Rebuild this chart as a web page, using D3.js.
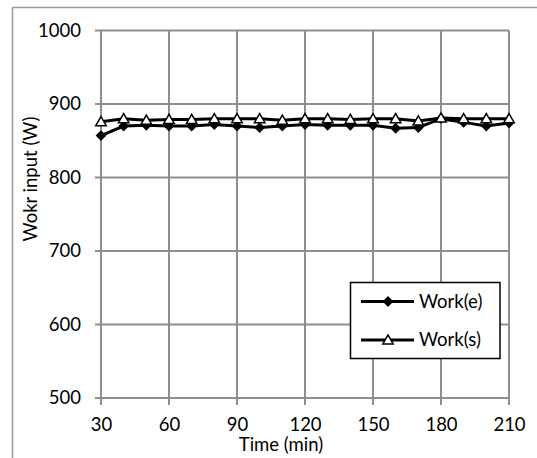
<!DOCTYPE html>
<html>
<head>
<meta charset="utf-8">
<script src="https://cdn.jsdelivr.net/npm/d3@7"></script>
<style>
  body { margin: 0; background: #fff; }
  svg text { font-family: Lato, "Open Sans", sans-serif; fill: #000; }
</style>
</head>
<body>
<div id="chart"></div>
<script>
// time in minutes
var times = [30, 40, 50, 60, 70, 80, 90, 100, 110, 120, 130, 140, 150, 160, 170, 180, 190, 200, 210];
// measured work input (W)
var workE = [857, 870, 871, 870, 870, 872, 870, 868, 870, 872, 871, 871, 871, 867, 868, 880, 875, 870, 874];
var workS = [876, 880, 878, 879, 879, 880, 880, 880, 878, 880, 880, 879, 880, 880, 877, 881, 880, 880, 880];
var xTicks = [30, 60, 90, 120, 150, 180, 210];
var yTicks = [500, 600, 700, 800, 900, 1000];
var seriesNames = ["Work(e)", "Work(s)"];

var width = 537, height = 458;
var plot = { left: 101, right: 509, top: 30.5, bottom: 398 };
var gridColor = "#8e8e8e";
var fontSize = 18.5;

var svg = d3.select("#chart").append("svg")
  .attr("width", width)
  .attr("height", height);

// outer frame (only top and left edges visible)
svg.append("line")
  .attr("x1", 12.5).attr("y1", 7.5).attr("x2", width).attr("y2", 7.5)
  .attr("stroke", "#9a9a9a").attr("stroke-width", 1.5);
svg.append("line")
  .attr("x1", 12.5).attr("y1", 7.5).attr("x2", 12.5).attr("y2", height)
  .attr("stroke", "#9a9a9a").attr("stroke-width", 1.5);

var x = d3.scaleLinear().domain([30, 210]).range([plot.left, plot.right]);
var y = d3.scaleLinear().domain([500, 1000]).range([plot.bottom, plot.top]);

//gridlines
var grid = svg.append("g").attr("class", "grid");
grid.selectAll("line.v")
  .data(xTicks)
  .enter()
  .append("line")
  .attr("x1", function (d) { return x(d); })
  .attr("x2", function (d) { return x(d); })
  .attr("y1", plot.top)
  .attr("y2", plot.bottom + 7)
  .attr("stroke", gridColor)
  .attr("stroke-width", 2);
grid.selectAll("line.h")
  .data(yTicks)
  .enter()
  .append("line")
  .attr("x1", plot.left - 6)
  .attr("x2", plot.right)
  .attr("y1", function (d) { return y(d); })
  .attr("y2", function (d) { return y(d); })
  .attr("stroke", gridColor)
  .attr("stroke-width", 2);

// axes (labels only, lines come from the grid)
var xAxis = svg.append("g")
  .attr("transform", "translate(0," + plot.bottom + ")")
  .call(d3.axisBottom(x).tickValues(xTicks).tickFormat(d3.format("d")).tickSize(0).tickPadding(20));
var yAxis = svg.append("g")
  .attr("transform", "translate(" + plot.left + ",0)")
  .call(d3.axisLeft(y).tickValues(yTicks).tickFormat(d3.format("d")).tickSize(0).tickPadding(20));
[xAxis, yAxis].forEach(function (ax) {
  ax.select(".domain").remove();
  ax.selectAll("text")
    .attr("font-size", fontSize)
    .attr("font-family", "Lato, sans-serif")
    .attr("fill", "#000");
});

// axis titles
svg.append("text")
  .attr("x", 281)
  .attr("y", 451)
  .attr("text-anchor", "middle")
  .attr("font-size", fontSize)
  .text("Time (min)");
svg.append("text")
  .attr("transform", "translate(37,179) rotate(-90)")
  .attr("text-anchor", "middle")
  .attr("font-size", fontSize)
  .text("Wokr input (W)");

var lineGen = function (vals) {
  return d3.line()
    .x(function (d, i) { return x(times[i]); })
    .y(function (d) { return y(d); })(vals);
};

var diamond = d3.symbol().type(d3.symbolSquare).size(58);
var triangle = d3.symbol().type(d3.symbolTriangle).size(48);

// Work(s) line
svg.append("path")
  .attr("d", lineGen(workS))
  .attr("fill", "none")
  .attr("stroke", "#000")
  .attr("stroke-width", 3);

// Work(e) line
svg.append("path")
  .attr("d", lineGen(workE))
  .attr("fill", "none")
  .attr("stroke", "#000")
  .attr("stroke-width", 3);

svg.selectAll("path.dia")
  .data(workE)
  .enter()
  .append("path")
  .attr("class", "dia")
  .attr("d", diamond)
  .attr("transform", function (d, i) { return "translate(" + x(times[i]) + "," + y(d) + ") rotate(45)"; })
  .attr("fill", "#000");

svg.selectAll("path.tri")
  .data(workS)
  .enter()
  .append("path")
  .attr("class", "tri")
  .attr("d", triangle)
  .attr("transform", function (d, i) { return "translate(" + x(times[i]) + "," + (y(d) + 1) + ")"; })
  .attr("fill", "#fff")
  .attr("stroke", "#000")
  .attr("stroke-width", 1.5);

// legend
var legend = svg.append("g");
legend.append("rect")
  .attr("x", 350.5).attr("y", 282.5)
  .attr("width", 149.5).attr("height", 76)
  .attr("fill", "#fff")
  .attr("stroke", "#000")
  .attr("stroke-width", 1.5);

var rows = legend.selectAll("g.row")
  .data(seriesNames)
  .enter()
  .append("g")
  .attr("class", "row")
  .attr("transform", function (d, i) { return "translate(0," + (i === 0 ? 301.5 : 340) + ")"; });
rows.append("line")
  .attr("x1", 361).attr("x2", 414)
  .attr("stroke", "#000").attr("stroke-width", 3);
rows.append("path")
  .attr("d", function (d, i) { return i === 0 ? diamond() : triangle(); })
  .attr("transform", function (d, i) { return i === 0 ? "translate(388,0) rotate(45)" : "translate(388,1)"; })
  .attr("fill", function (d, i) { return i === 0 ? "#000" : "#fff"; })
  .attr("stroke", function (d, i) { return i === 0 ? "none" : "#000"; })
  .attr("stroke-width", 1.5);
rows.append("text")
  .attr("x", 419)
  .attr("y", 0)
  .attr("dy", "0.35em")
  .attr("font-size", fontSize)
  .text(function (d) { return d; });
</script>
</body>
</html>
